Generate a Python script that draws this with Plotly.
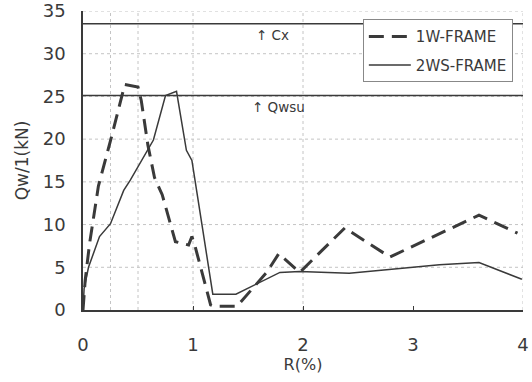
import plotly.graph_objects as go

# Data
r_1w = [0, 0.02, 0.06, 0.14, 0.26, 0.38, 0.50, 0.53, 0.59, 0.65, 0.72, 0.84, 0.96, 0.99, 1.02, 1.16, 1.19, 1.31, 1.40, 1.67, 1.78, 1.97, 2.38, 2.79, 3.60, 3.95]
q_1w = [0, 3.5, 7.8, 14.5, 20.3, 26.4, 26.1, 24.5, 19.3, 15.5, 13.5, 8.0, 7.6, 8.6, 7.4, 0.6, 0.45, 0.45, 0.45, 4.4, 6.6, 4.4, 9.6, 6.2, 11.1, 9.0]

r_2ws = [0, 0.01, 0.05, 0.15, 0.25, 0.37, 0.43, 0.64, 0.75, 0.85, 0.94, 0.99, 1.08, 1.18, 1.39, 1.79, 1.97, 2.42, 3.0, 3.24, 3.6, 3.99]
q_2ws = [0, 2.5, 5.0, 8.6, 10.1, 14.0, 15.2, 19.9, 25.1, 25.6, 18.7, 17.5, 10.1, 1.85, 1.85, 4.4, 4.5, 4.3, 5.0, 5.3, 5.55, 3.6]

cx_value = 33.5
qwsu_value = 25.1
ref_labels = ["↑ Cx", "↑ Qwsu"]
ref_label_x = [1.55, 1.515]

x_grid = [0.25, 0.5, 1, 2, 4]
y_grid = [5, 10, 15, 20, 25, 30, 35]
y_ticks = [0, 5, 10, 15, 20, 25, 30, 35]
x_ticks = [0, 1, 2, 3, 4]

ink = "#3a3a3a"
font_family = "DejaVu Sans"

fig = go.Figure()

fig.add_trace(go.Scatter(x=r_1w, y=q_1w, mode="lines", name="1W-FRAME",
                         legendgroup="a",
                         line=dict(color=ink, width=3, dash="15px,8px")))
fig.add_trace(go.Scatter(x=r_2ws, y=q_2ws, mode="lines", name="2WS-FRAME",
                         legendgroup="b",
                         line=dict(color=ink, width=1.5)))

shapes = []
for gx in x_grid:
    shapes.append(dict(type="line", xref="x", yref="y", x0=gx, x1=gx, y0=0, y1=35,
                       line=dict(color="#c4c4c4", width=1, dash="dot"), layer="below"))
for gy in y_grid:
    shapes.append(dict(type="line", xref="x", yref="y", x0=0, x1=4, y0=gy, y1=gy,
                       line=dict(color="#c4c4c4", width=1, dash="dot"), layer="below"))
for val in [cx_value, qwsu_value]:
    shapes.append(dict(type="line", xref="x", yref="y", x0=0, x1=4, y0=val, y1=val,
                       line=dict(color=ink, width=1.5)))

annotations = []
for lbl, lx, val in zip(ref_labels, ref_label_x, [cx_value, qwsu_value]):
    annotations.append(dict(x=lx, y=val, xref="x", yref="y", text=lbl, showarrow=False,
                            xanchor="left", yanchor="top", yshift=-1,
                            font=dict(family=font_family, size=13.5, color=ink)))

fig.update_layout(
    width=532, height=382,
    margin=dict(l=83, r=9, t=11, b=72, autoexpand=False),
    paper_bgcolor="white", plot_bgcolor="white",
    font=dict(family=font_family, color=ink),
    shapes=shapes, annotations=annotations,
    showlegend=True,
    legend=dict(x=0.636, y=0.972, xanchor="left", yanchor="top",
                bgcolor="white", bordercolor="#888888", borderwidth=1,
                font=dict(family=font_family, size=15, color=ink),
                itemwidth=42,
                tracegroupgap=6, traceorder="grouped"),
    xaxis=dict(range=[0, 4], tickvals=x_ticks, showgrid=False, zeroline=False,
               showline=True, linecolor=ink, linewidth=1.5, mirror=False,
               ticks="inside", ticklen=4, tickcolor=ink, automargin=False,
               tickfont=dict(size=18, color=ink), ticklabelstandoff=18,
               title=dict(text="R(%)", font=dict(size=16, color=ink), standoff=4)),
    yaxis=dict(range=[0, 35], tickvals=y_ticks, showgrid=False, zeroline=False,
               showline=True, linecolor=ink, linewidth=1.5, automargin=False,
               ticks="", tickfont=dict(size=18, color=ink), ticklabelstandoff=12,
               title=dict(text="Qw/1(kN)", font=dict(size=17, color=ink), standoff=10)),
)

fig.write_html("out.html", post_script="document.body.style.margin='0';",
               config={"displayModeBar": False})
